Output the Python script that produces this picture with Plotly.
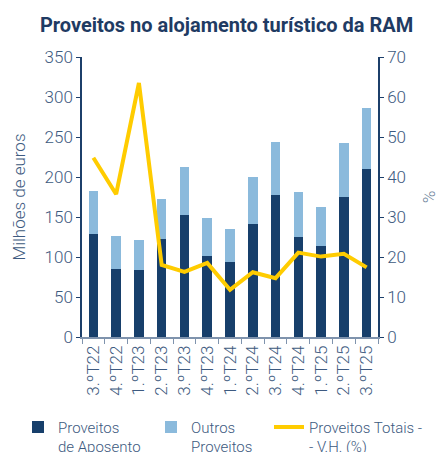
import plotly.graph_objects as go

# Quarterly tourism accommodation revenue, Madeira (RAM)
quarters = ["3.ºT22", "4.ºT22", "1.ºT23", "2.ºT23", "3.ºT23", "4.ºT23", "1.ºT24",
            "2.ºT24", "3.ºT24", "4.ºT24", "1.ºT25", "2.ºT25", "3.ºT25"]
# Room revenue (million euros)
proveitos_aposento = [129, 85, 84, 122, 152, 101, 94, 141, 178, 125, 114, 175, 210]
# Other revenue (million euros)
outros_proveitos = [53, 41, 37, 50, 60, 48, 41, 59, 66, 56, 48, 67, 76]
# Total revenue, year-on-year change (%)
vh_totais = [44.8, 35.7, 63.5, 18.0, 16.3, 18.5, 11.8, 16.2, 14.7, 21.1, 20.1, 20.8, 17.4]

FONT = "Roboto"
NAVY = "#173f6b"
LIGHT = "#8bbadc"
YELLOW = "#ffcc00"
TICK_C = "#3d5a80"
AXIS_C = "#1c3f6a"

fig = go.Figure()
fig.add_trace(go.Bar(x=quarters, y=proveitos_aposento, name="Proveitos<br>de Aposento",
                     marker=dict(color=NAVY, line=dict(width=0)), legend="legend"))
fig.add_trace(go.Bar(x=quarters, y=outros_proveitos, name="Outros<br>Proveitos",
                     marker=dict(color=LIGHT, line=dict(width=0)), legend="legend2"))
fig.add_trace(go.Scatter(x=quarters, y=vh_totais, name="Proveitos Totais -<br>- V.H. (%)",
                         mode="lines", yaxis="y2", legend="legend3",
                         line=dict(color=YELLOW, width=4)))

# one single-entry legend per series, laid out in a row under the x labels
legend_style = dict(orientation="h", xref="container", yref="container",
                    xanchor="left", y=0.091, yanchor="top", valign="top",
                    font=dict(size=15, color=TICK_C))

fig.update_layout(
    width=440, height=452,
    margin=dict(l=82, r=62, t=57, b=115),
    paper_bgcolor="white", plot_bgcolor="white",
    barmode="stack", bargap=0.58,
    font=dict(family=FONT, color=TICK_C, size=17, weight=300),
    title=dict(text="<b>Proveitos no alojamento turístico da RAM</b>",
               x=0.515, xanchor="center", y=0.945, yanchor="middle",
               font=dict(family=FONT, size=20, color="#1f3b63")),
    xaxis=dict(type="category", tickangle=-90, tickson="boundaries",
               ticks="outside", ticklen=5, tickcolor="#7f93ad",
               showline=True, linecolor="#7f93ad", linewidth=1.5,
               tickfont=dict(size=17, color=TICK_C), showgrid=False,
               automargin=False),
    yaxis=dict(range=[0, 350], dtick=50, showgrid=False, zeroline=False,
               showline=True, linecolor=AXIS_C, linewidth=1.5,
               ticks="outside", ticklen=4, tickcolor=AXIS_C,
               tickfont=dict(size=17, color=TICK_C), automargin=False,
               title=dict(text="Milhões de euros", standoff=15,
                          font=dict(size=17, color=TICK_C))),
    yaxis2=dict(range=[0, 70], dtick=10, overlaying="y", side="right",
                showgrid=False, zeroline=False,
                showline=True, linecolor=AXIS_C, linewidth=1.5,
                ticks="outside", ticklen=4, tickcolor=AXIS_C,
                tickfont=dict(size=17, color=TICK_C), automargin=False,
                title=dict(text="%", standoff=18,
                           font=dict(size=17, color="#6b7f99"))),
    legend=dict(legend_style, x=18 / 440),
    legend2=dict(legend_style, x=151 / 440),
    legend3=dict(legend_style, x=269 / 440),
    showlegend=True,
)

fig.write_html("out.html")
